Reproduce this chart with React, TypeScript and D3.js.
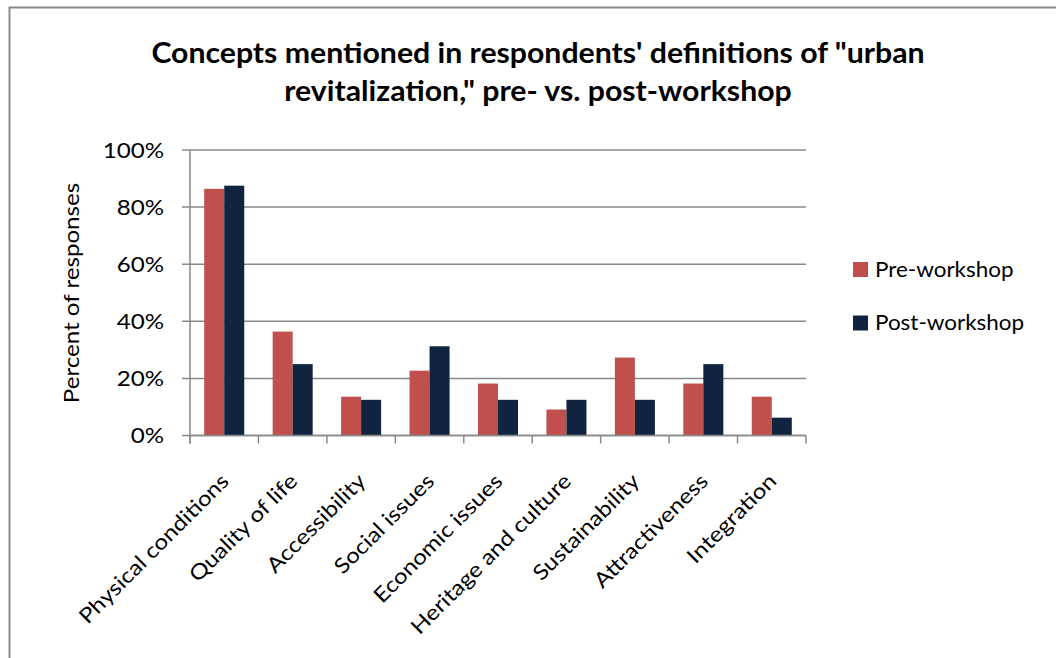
import React from "react";
import * as d3 from "d3";

const categories = [
  "Physical conditions",
  "Quality of life",
  "Accessibility",
  "Social issues",
  "Economic issues",
  "Heritage and culture",
  "Sustainability",
  "Attractiveness",
  "Integration",
];
const seriesNames = ["Pre-workshop", "Post-workshop"];
const preValues = [86.4, 36.4, 13.6, 22.7, 18.2, 9.1, 27.3, 18.2, 13.6];
const postValues = [87.5, 25, 12.5, 31.25, 12.5, 12.5, 12.5, 25, 6.25];
const yTicks = [0, 20, 40, 60, 80, 100];
const titleLines = [
  "Concepts mentioned in respondents' definitions of \"urban",
  "revitalization,\" pre- vs. post-workshop",
];
const yAxisTitle = "Percent of responses";

const W = 1056;
const H = 658;
const colors = ["#C0504D", "#10243F"];
const gray = "#898989";
const FONT = "Lato, 'Open Sans', sans-serif";
const STRETCH = 1.15;

export default function App() {
  const left = 190;
  const right = 806;
  const top = 150;
  const bottom = 435.5;

  const x0 = d3.scaleBand<string>().domain(categories).range([left, right]).padding(0);
  const x1 = d3
    .scaleBand<string>()
    .domain(seriesNames)
    .range([0, x0.bandwidth()])
    .paddingInner(0)
    .paddingOuter(0.71);
  const y = d3.scaleLinear().domain([0, 100]).range([bottom, top]);
  const values = [preValues, postValues];

  const boundaries = d3.range(categories.length + 1).map((i) => left + i * x0.step());

  return (
    <svg
      width={W}
      height={H}
      style={{ position: "absolute", left: 0, top: 0, background: "#fff" }}
    >
      <rect x={0} y={0} width={W} height={H} fill="#fff" />
      {/* chart border */}
      <rect x={9.5} y={7.5} width={1200} height={800} fill="none" stroke={gray} strokeWidth={2} />

      {/* title */}
      {titleLines.map((t, i) => (
        <text
          key={i}
          transform={`translate(538, ${63 + i * 38}) scale(1.08, 1)`}
          textAnchor="middle"
          fontFamily={FONT}
          fontWeight="bold"
          fontSize={28}
          fill="#000"
        >
          {t}
        </text>
      ))}

      {/* gridlines */}
      {yTicks.map((t) => (
        <line
          key={"g" + t}
          x1={left - 8}
          x2={right}
          y1={y(t)}
          y2={y(t)}
          stroke={gray}
          strokeWidth={1.5}
        />
      ))}

      {/* bars */}
      {categories.map((c, ci) =>
        seriesNames.map((s, si) => (
          <rect
            key={c + s}
            x={(x0(c) as number) + (x1(s) as number)}
            y={y(values[si][ci])}
            width={x1.bandwidth()}
            height={bottom - y(values[si][ci])}
            fill={colors[si]}
          />
        ))
      )}

      {/* axes */}
      <line x1={left} x2={left} y1={top} y2={bottom + 8} stroke={gray} strokeWidth={1.5} />
      <line x1={left} x2={right} y1={bottom} y2={bottom} stroke={gray} strokeWidth={1.5} />
      {boundaries.map((b, i) => (
        <line key={"t" + i} x1={b} x2={b} y1={bottom} y2={bottom + 8} stroke={gray} strokeWidth={1.5} />
      ))}

      {/* y tick labels */}
      {yTicks.map((t) => (
        <text
          key={"l" + t}
          transform={`translate(164, ${y(t) + 7.5}) scale(${STRETCH}, 1)`}
          textAnchor="end"
          fontFamily={FONT}
          fontSize={21}
          fill="#000"
        >
          {t + "%"}
        </text>
      ))}

      {/* y axis title */}
      <text
        transform={`translate(79, 293) rotate(-90) scale(${STRETCH}, 1)`}
        textAnchor="middle"
        fontFamily={FONT}
        fontSize={21}
        fill="#000"
      >
        {yAxisTitle}
      </text>

      {/* category labels */}
      {categories.map((c) => {
        const cx = (x0(c) as number) + x0.bandwidth() / 2;
        return (
          <text
            key={"c" + c}
            transform={`translate(${cx + 6}, ${bottom + 47}) rotate(-45) scale(${STRETCH}, 1)`}
            textAnchor="end"
            fontFamily={FONT}
            fontSize={21}
            fill="#000"
          >
            {c}
          </text>
        );
      })}

      {/* legend */}
      {seriesNames.map((s, i) => (
        <g key={"lg" + s}>
          <rect x={853} y={262 + i * 53.5} width={15} height={15} fill={colors[i]} />
          <text
            transform={`translate(875, ${277 + i * 53}) scale(1.07, 1)`}
            fontFamily={FONT}
            fontSize={21}
            fill="#000"
          >
            {s}
          </text>
        </g>
      ))}
    </svg>
  );
}
